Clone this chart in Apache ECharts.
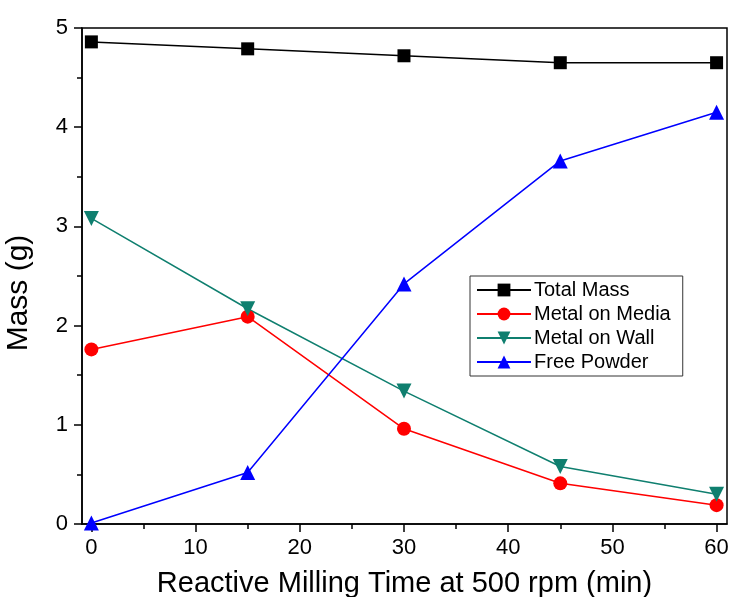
<!DOCTYPE html>
<html>
<head>
<meta charset="utf-8">
<script src="https://cdn.jsdelivr.net/npm/echarts@6/dist/echarts.min.js"></script>
<style>
  html, body { margin: 0; padding: 0; background: #fff; }
  #main { width: 732px; height: 597px; }
</style>
</head>
<body>
<div id="main"></div>
<script>
// milling time (min)
const times = [0, 15, 30, 45, 60];
// masses in g
const totalMass = [4.86, 4.79, 4.72, 4.65, 4.65];
const metalOnMedia = [1.76, 2.09, 0.96, 0.41, 0.19];
const metalOnWall = [3.08, 2.17, 1.34, 0.58, 0.30];
const freePowder = [0.01, 0.52, 2.42, 3.66, 4.15];
const xMajorTicks = [0, 10, 20, 30, 40, 50, 60];
const xMinorTicks = [5, 15, 25, 35, 45, 55];

const pairs = ys => times.map((t, i) => [t, ys[i]]);
const font = 'Liberation Sans, Arial, sans-serif';

let chart = echarts.init(document.getElementById('main'));

let option = {
    backgroundColor: '#fff',
    animation: false,
    grid: {
        left: 82, right: 5, top: 28, bottom: 73,
        outerBoundsMode: 'none',
        show: true, borderColor: '#000', borderWidth: 1.5
    },
    legend: {
        orient: 'vertical',
        left: 470, top: 276,
        padding: [4, 12, 4, 6],
        itemGap: 4,
        itemWidth: 54,
        itemHeight: 16,
        borderColor: '#333',
        borderWidth: 1,
        textStyle: { fontFamily: font, fontSize: 20, color: '#000', padding: [0, 0, 0, -2] },
        data: ['Total Mass', 'Metal on Media', 'Metal on Wall', 'Free Powder']
    },
    xAxis: [
        {
            type: 'value', min: -0.9, max: 61, position: 'bottom',
            name: 'Reactive Milling Time at 500 rpm (min)',
            nameLocation: 'middle', nameGap: 45,
            nameTextStyle: { fontFamily: font, fontSize: 29, color: '#000' },
            axisLine: { onZero: false, lineStyle: { color: '#000', width: 1.5 } },
            axisTick: { inside: false, customValues: xMajorTicks, length: 8, lineStyle: { color: '#000', width: 1.5 } },
            axisLabel: { customValues: xMajorTicks, margin: 13, fontFamily: font, fontSize: 22, color: '#000' },
            splitLine: { show: false }
        },
        {
            type: 'value', min: -0.9, max: 61, position: 'bottom',
            axisLine: { show: false, onZero: false },
            axisTick: { inside: false, customValues: xMinorTicks, length: 5, lineStyle: { color: '#000', width: 1.5 } },
            axisLabel: { show: false },
            splitLine: { show: false }
        }
    ],
    yAxis: {
        type: 'value', min: 0, max: 5, interval: 1,
        name: 'Mass (g)',
        nameLocation: 'middle', nameGap: 48,
        nameTextStyle: { fontFamily: font, fontSize: 30, color: '#000', padding: [0, 34, 0, 0] },
        axisLine: { show: true, onZero: false, lineStyle: { color: '#000', width: 1.5 } },
        axisTick: { show: true, inside: false, length: 8, lineStyle: { color: '#000', width: 1.5 } },
        minorTick: { show: true, splitNumber: 2, length: 5, lineStyle: { color: '#000', width: 1.5 } },
        axisLabel: { margin: 14, fontFamily: font, fontSize: 22, color: '#000' },
        splitLine: { show: false }
    },
    series: [
        {
            name: 'Total Mass', type: 'line', data: pairs(totalMass),
            symbol: 'rect', symbolSize: 13,
            itemStyle: { color: '#000' }, lineStyle: { color: '#000', width: 1.5 }
        },
        {
            name: 'Metal on Media', type: 'line', data: pairs(metalOnMedia),
            symbol: 'circle', symbolSize: 14,
            itemStyle: { color: '#ff0000' }, lineStyle: { color: '#ff0000', width: 1.5 }
        },
        {
            name: 'Metal on Wall', type: 'line', data: pairs(metalOnWall),
            symbol: 'triangle', symbolRotate: 180, symbolSize: 15,
            itemStyle: { color: '#0f7f6f' }, lineStyle: { color: '#0f7f6f', width: 1.5 }
        },
        {
            name: 'Free Powder', type: 'line', data: pairs(freePowder),
            symbol: 'triangle', symbolSize: 15,
            itemStyle: { color: '#0000ff' }, lineStyle: { color: '#0000ff', width: 1.5 }
        }
    ]
};

chart.setOption(option);
</script>
</body>
</html>
